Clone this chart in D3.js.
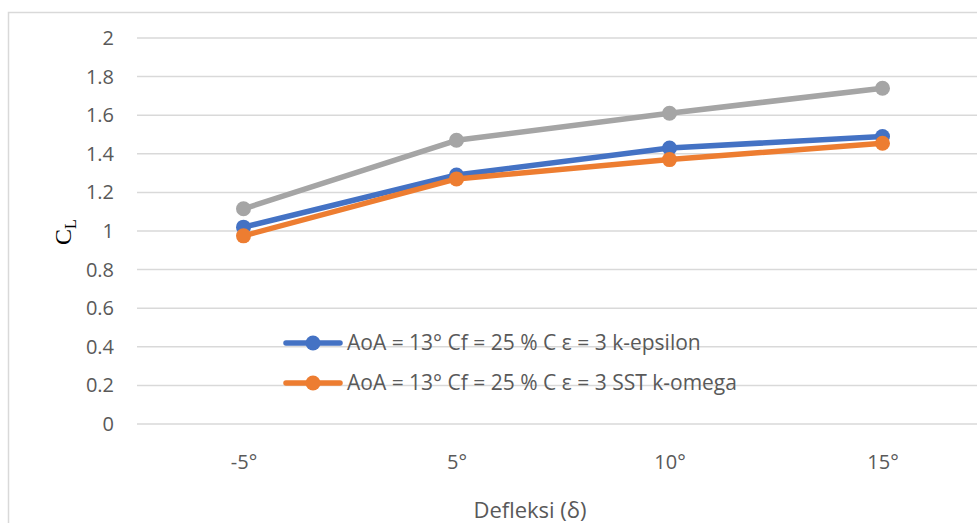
<!DOCTYPE html>
<html>
<head>
<meta charset="utf-8">
<script src="https://cdn.jsdelivr.net/npm/d3@7"></script>
<style>
  html, body { margin: 0; padding: 0; background: #fff; }
  svg { display: block; }
  .tick text { font-family: "Open Sans", sans-serif; fill: #595959; }
</style>
</head>
<body>
<svg id="chart" width="977" height="523"></svg>
<script>
const categories = ["-5°", "5°", "10°", "15°"];
const seriesNames = [
  "AoA = 13° Cf = 25 % C ε = 3 k-epsilon",
  "AoA = 13° Cf = 25 % C ε = 3 SST k-omega",
  "Series 3"
];
const kEpsilon = [1.02, 1.29, 1.43, 1.49];
const sstKOmega = [0.975, 1.27, 1.37, 1.455];
const series3 = [1.115, 1.47, 1.61, 1.74];
const yTicks = [0, 0.2, 0.4, 0.6, 0.8, 1, 1.2, 1.4, 1.6, 1.8, 2];
const colors = ["#4472C4", "#ED7D31", "#A5A5A5"];

const svg = d3.select("#chart");
const font = '"Open Sans", sans-serif';

// chart border (cropped)
svg.append("path")
  .attr("d", "M8.5,523 L8.5,12.5 L977,12.5")
  .attr("fill", "none").attr("stroke", "#d9d9d9").attr("stroke-width", 1.5);

const plotLeft = 137, bandW = 213;
const x = d3.scalePoint().domain(categories)
  .range([plotLeft + bandW / 2, plotLeft + bandW * 3.5]);
const y = d3.scaleLinear().domain([0, 2]).range([424, 38]);

// gridlines
svg.append("g").selectAll("line").data(yTicks).join("line")
  .attr("x1", plotLeft).attr("x2", 977)
  .attr("y1", d => y(d)).attr("y2", d => y(d))
  .attr("stroke", "#d9d9d9").attr("stroke-width", 1.5);

// y axis labels
const yAxis = svg.append("g").attr("transform", `translate(${plotLeft - 20},0)`)
  .call(d3.axisLeft(y).tickValues(yTicks).tickSize(0).tickFormat(d => String(d)));
yAxis.select(".domain").remove();
yAxis.selectAll("text").attr("font-size", 20).attr("dx", "0").attr("font-family", font);

// x axis labels
const xAxis = svg.append("g").attr("transform", `translate(0,452)`)
  .call(d3.axisBottom(x).tickSize(0));
xAxis.select(".domain").remove();
xAxis.selectAll("text").attr("font-size", 20).attr("font-family", font);

// axis titles
svg.append("text").attr("x", 530).attr("y", 518).attr("text-anchor", "middle")
  .attr("font-family", font).attr("font-size", 22).attr("fill", "#595959")
  .text("Defleksi (δ)");

const yt = svg.append("text")
  .attr("transform", "translate(71,232) rotate(-90)")
  .attr("text-anchor", "middle")
  .attr("font-family", '"Liberation Serif", "DejaVu Serif", serif')
  .attr("font-size", 24).attr("fill", "#000");
yt.append("tspan").text("C");
yt.append("tspan").attr("font-size", 16).attr("dy", 5).text("L");

// lines
const data = [kEpsilon, sstKOmega, series3];
const line = d3.line().x((d, i) => x(categories[i])).y(d => y(d));
data.forEach((vals, s) => {
  const g = svg.append("g");
  g.append("path").datum(vals).attr("d", line)
    .attr("fill", "none").attr("stroke", colors[s]).attr("stroke-width", 5.5)
    .attr("stroke-linejoin", "round").attr("stroke-linecap", "round");
  g.selectAll("circle").data(vals).join("circle")
    .attr("cx", (d, i) => x(categories[i])).attr("cy", d => y(d))
    .attr("r", 7.5).attr("fill", colors[s]);
});

// legend (first two series)
const legend = svg.append("g");
[0, 1].forEach((s, i) => {
  const ly = 343 + i * 40;
  legend.append("line").attr("x1", 286).attr("x2", 340).attr("y1", ly).attr("y2", ly)
    .attr("stroke", colors[s]).attr("stroke-width", 5.5).attr("stroke-linecap", "round");
  legend.append("circle").attr("cx", 313).attr("cy", ly).attr("r", 7.5).attr("fill", colors[s]);
  legend.append("text").attr("x", 347).attr("y", ly + 7)
    .attr("font-family", font).attr("font-size", 21).attr("fill", "#595959")
    .text(seriesNames[s]);
});
</script>
</body>
</html>
